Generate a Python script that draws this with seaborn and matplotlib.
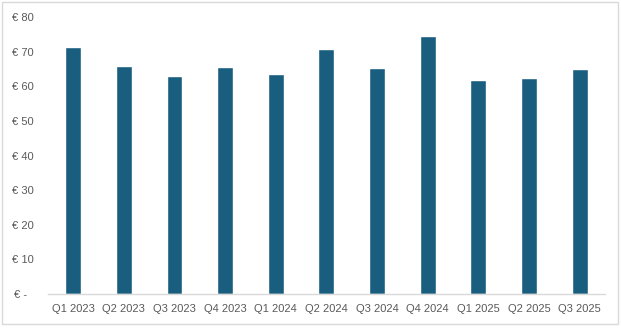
import matplotlib
matplotlib.use("Agg")
import matplotlib.pyplot as plt
import seaborn as sns
import pandas as pd
from matplotlib.patches import Rectangle

quarters = ["Q1 2023", "Q2 2023", "Q3 2023", "Q4 2023", "Q1 2024", "Q2 2024",
            "Q3 2024", "Q4 2024", "Q1 2025", "Q2 2025", "Q3 2025"]
values = [71.2, 65.8, 62.9, 65.5, 63.5, 70.7, 65.2, 74.4, 61.8, 62.3, 64.9]
ytick_vals = [0, 10, 20, 30, 40, 50, 60, 70, 80]
ytick_labels = ["€ -  ", "€ 10", "€ 20", "€ 30", "€ 40", "€ 50", "€ 60", "€ 70", "€ 80"]

sns.set_theme(style="white")
plt.rcParams['font.family'] = ['Liberation Sans', 'DejaVu Sans']

df = pd.DataFrame({"quarter": quarters, "value": values})

fig = plt.figure(figsize=(6.21, 3.28), dpi=100)
ax = fig.add_axes([47.7/621, 1-294/328, (605-47.7)/621, 277/328])
sns.barplot(data=df, x="quarter", y="value", color="#195E7F", saturation=1,
            width=0.31, ax=ax)
ax.set_xlim(-0.5, len(quarters)-0.5)
ax.set_ylim(0, 80)
ax.set_yticks(ytick_vals)
ax.set_yticklabels(ytick_labels)
ax.set_xlabel("")
ax.set_ylabel("")
for s in ["top", "right", "left"]:
    ax.spines[s].set_visible(False)
ax.spines["bottom"].set_color("#d9d9d9")
ax.spines["bottom"].set_linewidth(1)
ax.tick_params(axis="both", length=0, labelsize=8, labelcolor="#595959")
ax.tick_params(axis="x", pad=7.5)
ax.tick_params(axis="y", pad=10)

fig.patches.append(Rectangle((2/621, 4/328), 616/621, 322/328, transform=fig.transFigure,
                             fill=False, edgecolor="#d9d9d9", linewidth=1))
fig.savefig("out.png", dpi=100, facecolor="white")
